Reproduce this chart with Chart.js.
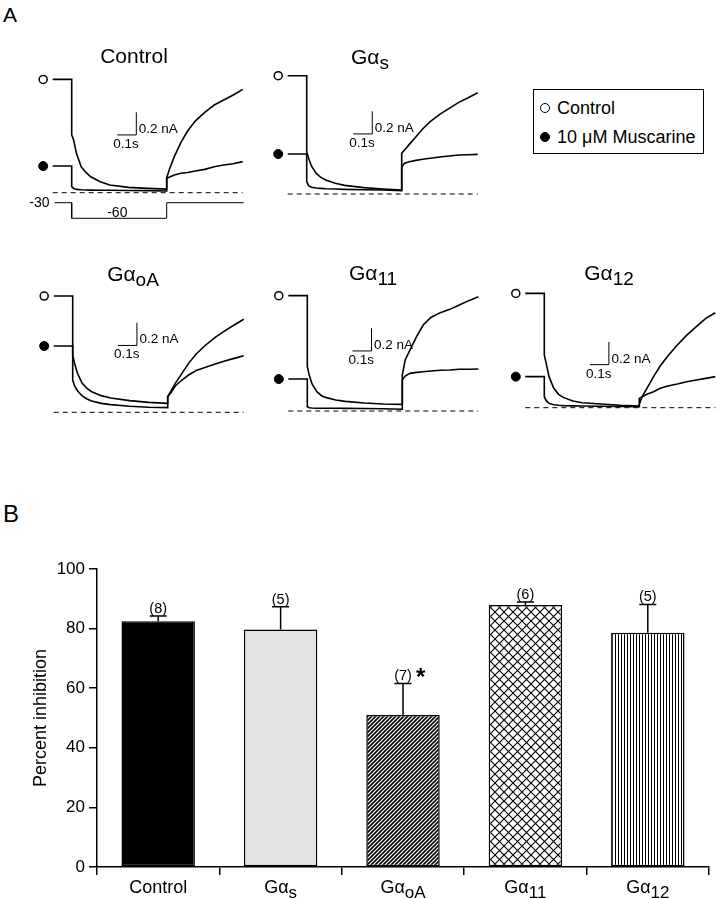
<!DOCTYPE html>
<html lang="en">
<head>
<meta charset="UTF-8">
<title>Muscarinic inhibition and G alpha subunits</title>
<script src="https://cdn.jsdelivr.net/npm/chart.js"></script>
<style>
  body { margin: 0; background: #fff; color: #000; font-family: "Liberation Sans", Arial, sans-serif; }
  #page { position: relative; width: 717px; height: 899px; overflow: hidden; }
  .lettre { position: absolute; left: 3px; }
  .titre { position: absolute; font-size: 21px; line-height: 21px; white-space: nowrap; transform: translateX(-50%); }
  .titre sub { font-size: 19px; vertical-align: -5px; line-height: 0; }
  canvas.trace { position: absolute; }
  #graphB { position: absolute; left: 0; top: 540px; }

  #legende {
    position: absolute; left: 533px; top: 89px; width: 171px; height: 65px;
    box-sizing: border-box; border: 1.5px solid #000; font-size: 18px;
  }
  #legende .ligne { position: absolute; left: 0; height: 20px; line-height: 20px; white-space: nowrap; }
  #legende .pt { position: absolute; left: 6px; top: 5px; width: 10px; height: 10px; box-sizing: border-box; border-radius: 50%; border: 1.5px solid #000; }
  #legende .plein { background: #000; }
  #legende .txt { position: absolute; left: 23px; top: 0; }
</style>
</head>
<body>
<div id="page">
  <div class="lettre" style="top:4px; font-size:21px; line-height:21px;">A</div>
  <div class="lettre" style="top:502px; font-size:24px; line-height:24px;">B</div>

  <div id="legende">
    <div class="ligne" style="top:8px;"><span class="pt"></span><span class="txt">Control</span></div>
    <div class="ligne" style="top:37px;"><span class="pt plein"></span><span class="txt">10 μM Muscarine</span></div>
  </div>

  <canvas id="graphB" width="717" height="359"></canvas>
</div>

<script>
// ---------- panel A : current traces (ms, nA above the dashed zero line) ----------
const temps = [-100, 0, 0, 10, 25, 50, 75, 100, 150, 200, 300, 400, 500, 500, 515, 540, 575, 610, 650, 700, 750, 800, 850, 900];

const ctrlOuvert = [1.00, 1.00, 0.51, 0.465, 0.347, 0.229, 0.179, 0.141, 0.097, 0.068, 0.047, 0.038, 0.032, 0.132, 0.209, 0.318, 0.444, 0.544, 0.632, 0.709, 0.774, 0.818, 0.862, 0.912];
const ctrlPlein  = [0.235, 0.235, 0.053, 0.038, 0.029, 0.026, 0.024, 0.023, 0.022, 0.021, 0.020, 0.018, 0.015, 0.126, 0.138, 0.156, 0.171, 0.179, 0.191, 0.206, 0.229, 0.244, 0.256, 0.274];

const gsOuvert = [1.044, 1.044, 0.374, 0.315, 0.247, 0.182, 0.147, 0.124, 0.094, 0.076, 0.056, 0.044, 0.035, 0.359, 0.388, 0.438, 0.506, 0.574, 0.638, 0.703, 0.756, 0.809, 0.850, 0.894];
const gsPlein  = [0.353, 0.353, 0.109, 0.074, 0.059, 0.053, 0.050, 0.047, 0.044, 0.041, 0.038, 0.035, 0.029, 0.241, 0.271, 0.285, 0.297, 0.306, 0.315, 0.326, 0.335, 0.344, 0.347, 0.350];

const goOuvert = [1.026, 1.026, 0.285, 0.232, 0.191, 0.144, 0.118, 0.100, 0.079, 0.068, 0.053, 0.044, 0.041, 0.138, 0.182, 0.256, 0.344, 0.432, 0.515, 0.594, 0.662, 0.718, 0.771, 0.821];
const goPlein  = [0.585, 0.585, 0.506, 0.432, 0.344, 0.256, 0.212, 0.182, 0.147, 0.126, 0.103, 0.088, 0.079, 0.138, 0.168, 0.232, 0.285, 0.329, 0.368, 0.397, 0.426, 0.453, 0.476, 0.500];

const g11Ouvert = [1.018, 1.018, 0.391, 0.318, 0.238, 0.171, 0.135, 0.118, 0.097, 0.085, 0.071, 0.062, 0.059, 0.318, 0.450, 0.538, 0.656, 0.759, 0.826, 0.868, 0.897, 0.935, 0.974, 1.009];
const g11Plein  = [0.282, 0.282, 0.038, 0.029, 0.026, 0.024, 0.024, 0.024, 0.024, 0.023, 0.022, 0.020, 0.015, 0.274, 0.309, 0.332, 0.341, 0.347, 0.353, 0.359, 0.362, 0.368, 0.368, 0.371];

const g12Ouvert = [1.009, 1.009, 0.465, 0.391, 0.274, 0.171, 0.118, 0.091, 0.059, 0.044, 0.032, 0.021, 0.015, 0.030, 0.097, 0.171, 0.274, 0.368, 0.456, 0.553, 0.641, 0.715, 0.788, 0.838];
const g12Plein  = [0.274, 0.274, 0.097, 0.062, 0.038, 0.026, 0.021, 0.018, 0.016, 0.015, 0.013, 0.011, 0.009, 0.082, 0.097, 0.118, 0.141, 0.171, 0.191, 0.209, 0.229, 0.244, 0.259, 0.274];

// voltage protocol (control panel only)
const protoT = [-90, 0, 0, 500, 500, 905];
const protoV = [-30, -30, -60, -60, -30, -30];

// scale bars: corner (ms, nA) of each 0.1 s / 0.2 nA bar
const barreT = [340, 345, 338, 338, 340];
const barreI = [0.51, 0.53, 0.59, 0.53, 0.38];
const marqueT = -150;

// ---------- panel B : percent inhibition ----------
const catMain = ['Control', 'Gα', 'Gα', 'Gα', 'Gα'];
const catSub  = ['', 's', 'oA', '11', '12'];
const inhibition = [82.5, 79.7, 51.0, 87.9, 78.6];
const sem = [1.7, 7.6, 10.6, 1.0, 9.5];
const nCellules = [8, 5, 7, 6, 5];
const signif = [false, false, true, false, false];

const POLICE = '"Liberation Sans", Arial, sans-serif';
const MS_PAR_PX = 5.263;
const PX_PAR_NA = 113.3;
const PX_PAR_MV = 0.52;

const panneaux = [
  { titre: 'Control', sub: '', cx: 134, ty: 45, ouvert: ctrlOuvert, plein: ctrlPlein, stepX: 71.7, baseY: 192.7, proto: true },
  { titre: 'Gα', sub: 's', cx: 370, ty: 46, ouvert: gsOuvert, plein: gsPlein, stepX: 306.7, baseY: 194 },
  { titre: 'Gα', sub: 'oA', cx: 133, ty: 263, ouvert: goOuvert, plein: goPlein, stepX: 72.7, baseY: 412.3 },
  { titre: 'Gα', sub: '11', cx: 373, ty: 262, ouvert: g11Ouvert, plein: g11Plein, stepX: 307.3, baseY: 411 },
  { titre: 'Gα', sub: '12', cx: 609, ty: 262, ouvert: g12Ouvert, plein: g12Plein, stepX: 544.3, baseY: 407.7 }
];

function ligne(data, extra) {
  return Object.assign({ data: data, showLine: true, borderColor: '#000', borderWidth: 1.6, pointRadius: 0, tension: 0, fill: false }, extra || {});
}

function tracerPanneau(p, k) {
  const page = document.getElementById('page');
  const W = 230, H = 170;
  const left = Math.round(p.stepX - 50), top = Math.round(p.baseY - 130);
  const cv = document.createElement('canvas');
  cv.className = 'trace'; cv.width = W; cv.height = H;
  cv.style.left = left + 'px'; cv.style.top = top + 'px';
  page.appendChild(cv);

  const titre = document.createElement('div');
  titre.className = 'titre';
  titre.style.left = p.cx + 'px'; titre.style.top = p.ty + 'px';
  titre.innerHTML = p.titre + (p.sub ? '<sub>' + p.sub + '</sub>' : '');
  page.appendChild(titre);

  const xmin = (left - p.stepX) * MS_PAR_PX, xmax = xmin + W * MS_PAR_PX;
  const ymax = (p.baseY - top) / PX_PAR_NA, ymin = ymax - H / PX_PAR_NA;
  const vmax = -30 + (202.7 - top) / PX_PAR_MV, vmin = vmax - H / PX_PAR_MV;

  const bt = barreT[k], bi = barreI[k];
  const datasets = [
    ligne(temps.map((t, i) => ({ x: t, y: p.ouvert[i] }))),
    ligne(temps.map((t, i) => ({ x: t, y: p.plein[i] }))),
    ligne([{ x: temps[0], y: 0 }, { x: temps[temps.length - 1], y: 0 }], { borderWidth: 1, borderDash: [5, 4] }),
    ligne([{ x: bt - 100, y: bi }, { x: bt, y: bi }, { x: bt, y: bi + 0.2 }], { borderWidth: 1 }),
    { data: [{ x: marqueT, y: p.ouvert[0] }], showLine: false, pointStyle: 'circle', pointRadius: 4, pointBorderWidth: 1.5, pointBorderColor: '#000', pointBackgroundColor: '#fff' },
    { data: [{ x: marqueT, y: p.plein[0] }], showLine: false, pointStyle: 'circle', pointRadius: 4.5, pointBorderWidth: 1, pointBorderColor: '#000', pointBackgroundColor: '#000' }
  ];
  if (p.proto) {
    datasets.push(ligne(protoT.map((t, i) => ({ x: t, y: protoV[i] })), { yAxisID: 'v', borderWidth: 1 }));
  }

  const etiquettes = {
    id: 'etiquettes' + k,
    afterDatasetsDraw(chart) {
      const ctx = chart.ctx, sx = chart.scales.x, sy = chart.scales.y;
      ctx.save();
      ctx.fillStyle = '#000';
      ctx.font = '13.5px ' + POLICE;
      ctx.textAlign = 'left'; ctx.textBaseline = 'alphabetic';
      ctx.fillText('0.2 nA', sx.getPixelForValue(bt) + 2.5, sy.getPixelForValue(bi) - 2);
      ctx.fillText('0.1s', sx.getPixelForValue(bt - 100) - 4, sy.getPixelForValue(bi) + 13);
      if (p.proto) {
        const sv = chart.scales.v;
        ctx.font = '14px ' + POLICE;
        ctx.textAlign = 'right'; ctx.textBaseline = 'middle';
        ctx.fillText(String(protoV[0]), sx.getPixelForValue(protoT[0]) - 5, sv.getPixelForValue(protoV[0]));
        ctx.textAlign = 'center'; ctx.textBaseline = 'alphabetic';
        ctx.fillText(String(protoV[2]), sx.getPixelForValue(240), sv.getPixelForValue(protoV[2]) - 1);
      }
      ctx.restore();
    }
  };

  new Chart(cv, {
    type: 'scatter',
    data: { datasets: datasets },
    options: {
      responsive: false, animation: false, events: [],
      layout: { padding: 0, autoPadding: false },
      plugins: { legend: { display: false }, tooltip: { enabled: false } },
      scales: {
        x: { type: 'linear', axis: 'x', position: 'bottom', display: false, min: xmin, max: xmax },
        y: { type: 'linear', axis: 'y', position: 'left', display: false, min: ymin, max: ymax },
        v: { type: 'linear', axis: 'y', position: 'right', display: false, min: vmin, max: vmax }
      }
    },
    plugins: [etiquettes]
  });
}

panneaux.forEach(tracerPanneau);

// ---------- panel B ----------
const cvB = document.getElementById('graphB');
const ctxB = cvB.getContext('2d');

function motif(w, h, dessin) {
  const c = document.createElement('canvas');
  c.width = w; c.height = h;
  const g = c.getContext('2d');
  g.fillStyle = '#fff'; g.fillRect(0, 0, w, h);
  g.strokeStyle = '#000'; g.fillStyle = '#000';
  dessin(g, w, h);
  return ctxB.createPattern(c, 'repeat');
}

const hachures = motif(4, 4, (g) => {
  g.lineWidth = 1.6;
  g.beginPath();
  g.moveTo(-1, 5); g.lineTo(5, -1);
  g.moveTo(-1, 1); g.lineTo(1, -1);
  g.moveTo(3, 5); g.lineTo(5, 3);
  g.stroke();
});
const quadrillage = motif(9, 9, (g) => {
  g.lineWidth = 1.1;
  g.beginPath();
  g.moveTo(-1, -1); g.lineTo(10, 10);
  g.moveTo(-1, 10); g.lineTo(10, -1);
  g.stroke();
});
const verticales = motif(3, 3, (g) => { g.fillRect(0, 0, 1, 3); });

const remplissages = ['#000', '#e3e3e3', hachures, quadrillage, verticales];

const erreursEtLabels = {
  id: 'erreursEtLabels',
  afterDatasetsDraw(chart) {
    const ctx = chart.ctx, sy = chart.scales.y, sx = chart.scales.x;
    const meta = chart.getDatasetMeta(0);
    ctx.save();
    ctx.strokeStyle = '#000'; ctx.fillStyle = '#000'; ctx.lineWidth = 1.5;
    meta.data.forEach((bar, i) => {
      const x = bar.x;
      const y0 = sy.getPixelForValue(inhibition[i]);
      const y1 = sy.getPixelForValue(inhibition[i] + sem[i]);
      ctx.beginPath();
      ctx.moveTo(x, y0); ctx.lineTo(x, y1);
      ctx.moveTo(x - 8.5, y1); ctx.lineTo(x + 8.5, y1);
      ctx.stroke();
      ctx.font = '14.5px ' + POLICE;
      ctx.textAlign = 'center'; ctx.textBaseline = 'alphabetic';
      ctx.fillText('(' + nCellules[i] + ')', x, y1 - 3);
      if (signif[i]) {
        ctx.font = 'bold 24px ' + POLICE;
        ctx.textAlign = 'left';
        ctx.fillText('*', x + 13, y1 + 2);
      }
    });
    // category labels with subscripts
    catMain.forEach((m, i) => {
      const x = sx.getPixelForValue(i);
      ctx.font = '18px ' + POLICE;
      const w1 = ctx.measureText(m).width;
      ctx.font = '17px ' + POLICE;
      const w2 = catSub[i] ? ctx.measureText(catSub[i]).width : 0;
      const x0 = x - (w1 + w2) / 2;
      ctx.textAlign = 'left'; ctx.textBaseline = 'alphabetic';
      ctx.font = '18px ' + POLICE;
      ctx.fillText(m, x0, chart.chartArea.bottom + 26);
      if (catSub[i]) {
        ctx.font = '17px ' + POLICE;
        ctx.fillText(catSub[i], x0 + w1, chart.chartArea.bottom + 31);
      }
    });
    ctx.restore();
  }
};

new Chart(cvB, {
  type: 'bar',
  data: {
    labels: catMain.map((m, i) => m + catSub[i]),
    datasets: [{
      data: inhibition,
      backgroundColor: remplissages,
      borderColor: '#000',
      borderWidth: 1.5,
      borderSkipped: false,
      barPercentage: 0.6,
      categoryPercentage: 1
    }]
  },
  options: {
    responsive: false, animation: false, events: [],
    layout: { padding: { top: 29, right: 8, bottom: 0, left: 0 } },
    plugins: { legend: { display: false }, tooltip: { enabled: false } },
    scales: {
      x: {
        offset: true,
        grid: { offset: true, drawOnChartArea: false, drawTicks: true, tickLength: 8, color: '#000', lineWidth: 1.5 },
        border: { display: true, color: '#000', width: 1.5 },
        ticks: { callback: () => '', padding: 0 },
        afterFit: (s) => { s.height = 32; }
      },
      y: {
        min: 0, max: 100,
        ticks: { stepSize: 20, color: '#000', padding: 4, font: { size: 17, family: POLICE } },
        grid: { drawOnChartArea: false, tickLength: 8, color: '#000', lineWidth: 1.5 },
        border: { display: true, color: '#000', width: 1.5 },
        title: { display: true, text: 'Percent inhibition', color: '#000', padding: { top: 30, bottom: 0 }, font: { size: 18, family: POLICE } },
        afterFit: (s) => { s.width = 97; }
      }
    }
  },
  plugins: [erreursEtLabels]
});
</script>
</body>
</html>
